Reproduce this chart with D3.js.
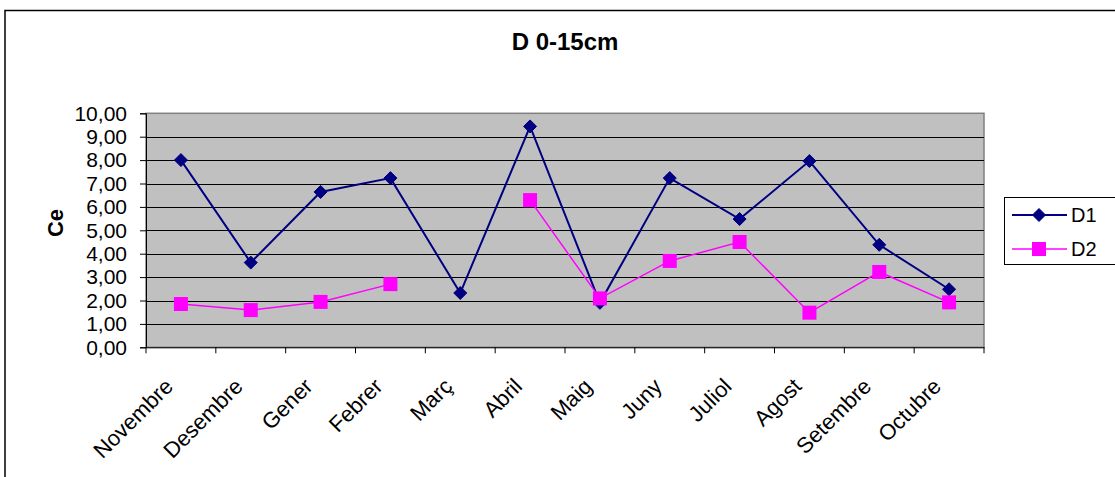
<!DOCTYPE html>
<html><head><meta charset="utf-8">
<script src="https://cdn.jsdelivr.net/npm/d3@7"></script>
<style>body{margin:0;background:#fff}svg{display:block}text{font-family:"Liberation Sans",Arial,sans-serif}</style>
</head><body>
<svg id="c" width="1115" height="477"></svg>
<script>
const categories = ["Novembre","Desembre","Gener","Febrer","Març","Abril","Maig","Juny","Juliol","Agost","Setembre","Octubre"];
const d1 = [8.0, 3.62, 6.64, 7.23, 2.32, 9.44, 1.9, 7.23, 5.48, 7.96, 4.38, 2.48];
const d2 = [1.85, 1.59, 1.94, 2.7, null, 6.29, 2.09, 3.69, 4.5, 1.48, 3.22, 1.92];
const yTicks = [0,1,2,3,4,5,6,7,8,9,10];
const seriesNames = ["D1","D2"];

const svg = d3.select("#c");
const L=146, R=984, T=113.3, B=347.3;
const x = d3.scaleBand().domain(categories).range([L,R]);
const y = d3.scaleLinear().domain([0,10]).range([B,T]);

// outer chart border
svg.append("rect").attr("x",5).attr("y",10.5).attr("width",1120).attr("height",480)
  .attr("fill","none").attr("stroke","#000").attr("stroke-width",1.5);

// title
svg.append("text").attr("x",565).attr("y",50).attr("text-anchor","middle")
  .attr("font-weight","bold").attr("font-size",24).text("D 0-15cm");

// plot area
svg.append("rect").attr("x",L).attr("y",T).attr("width",R-L).attr("height",B-T)
  .attr("fill","#C0C0C0").attr("stroke","#808080").attr("stroke-width",1.5);

// gridlines
svg.append("g").selectAll("line").data(yTicks.filter(d=>d>0&&d<10)).join("line")
  .attr("x1",L).attr("x2",R).attr("y1",d=>Math.round(y(d))+0.5).attr("y2",d=>Math.round(y(d))+0.5)
  .attr("stroke","#000").attr("stroke-width",1);

// y axis
const yAxis = d3.axisLeft(y).tickValues(yTicks).tickSize(6).tickPadding(13)
  .tickFormat(d=>d3.format(".2f")(d).replace(".",","));
const gy = svg.append("g").attr("transform",`translate(${L},0)`).call(yAxis);
gy.attr("font-size",null).attr("font-family",null);
gy.select(".domain").attr("stroke","#000");
gy.selectAll(".tick line").attr("stroke","#000");
gy.selectAll("text").attr("font-size",21).attr("fill","#000");

// x axis
const xAxis = d3.axisBottom(x).tickSize(0).tickFormat("");
const gx = svg.append("g").attr("transform",`translate(0,${B})`).call(xAxis);
gx.attr("font-size",null).attr("font-family",null);
gx.select(".domain").attr("stroke","#000");
const bounds = categories.map((c,i)=>L+i*x.bandwidth()).concat([R]);
gx.selectAll(".bt").data(bounds).join("line").attr("class","bt")
  .attr("x1",d=>d).attr("x2",d=>d).attr("y1",0).attr("y2",6).attr("stroke","#000");
gx.selectAll(".lbl").data(categories).join("text").attr("class","lbl")
  .attr("text-anchor","end").attr("font-size",22).attr("fill","#000")
  .attr("transform",d=>`translate(${x(d)+x.bandwidth()/2-12},${35}) rotate(-45)`)
  .attr("dy","0.35em").text(d=>d);

// y title
svg.append("text").attr("transform","translate(63,223) rotate(-90)").attr("text-anchor","middle")
  .attr("font-weight","bold").attr("font-size",22).text("Ce");

const cx = c=>x(c)+x.bandwidth()/2;
const line = d3.line().defined(d=>d.v!=null).x(d=>cx(d.c)).y(d=>y(d.v));
const diamond = (g,px,py)=>g.append("path").attr("d",`M${px},${py-6.5}L${px+6.5},${py}L${px},${py+6.5}L${px-6.5},${py}Z`).attr("fill","#000080").attr("stroke","#000080");

// D1
const p1 = categories.map((c,i)=>({c,v:d1[i]}));
const p2 = categories.map((c,i)=>({c,v:d2[i]}));
svg.append("path").datum(p1).attr("d",line).attr("fill","none").attr("stroke","#000080").attr("stroke-width",2);
const gm1 = svg.append("g");
p1.forEach(p=>diamond(gm1,cx(p.c),y(p.v)));
// D2
svg.append("path").datum(p2).attr("d",line).attr("fill","none").attr("stroke","#FF00FF").attr("stroke-width",1.5);
svg.append("g").selectAll("rect").data(p2.filter(d=>d.v!=null)).join("rect")
  .attr("x",d=>cx(d.c)-7).attr("y",d=>y(d.v)-7).attr("width",14).attr("height",14).attr("fill","#FF00FF");

// legend
const lg = svg.append("g");
lg.append("rect").attr("x",1004.5).attr("y",197.5).attr("width",120).attr("height",67)
  .attr("fill","#fff").attr("stroke","#000").attr("stroke-width",1);
lg.append("line").attr("x1",1012).attr("x2",1067).attr("y1",215).attr("y2",215).attr("stroke","#000080").attr("stroke-width",2);
diamond(lg,1039,215);
lg.append("line").attr("x1",1012).attr("x2",1067).attr("y1",249).attr("y2",249).attr("stroke","#FF00FF").attr("stroke-width",1.5);
lg.append("rect").attr("x",1032).attr("y",242).attr("width",14).attr("height",14).attr("fill","#FF00FF");
lg.append("text").attr("x",1071).attr("y",222).attr("font-size",20).text(seriesNames[0]);
lg.append("text").attr("x",1071).attr("y",256).attr("font-size",20).text(seriesNames[1]);
</script>
</body></html>
